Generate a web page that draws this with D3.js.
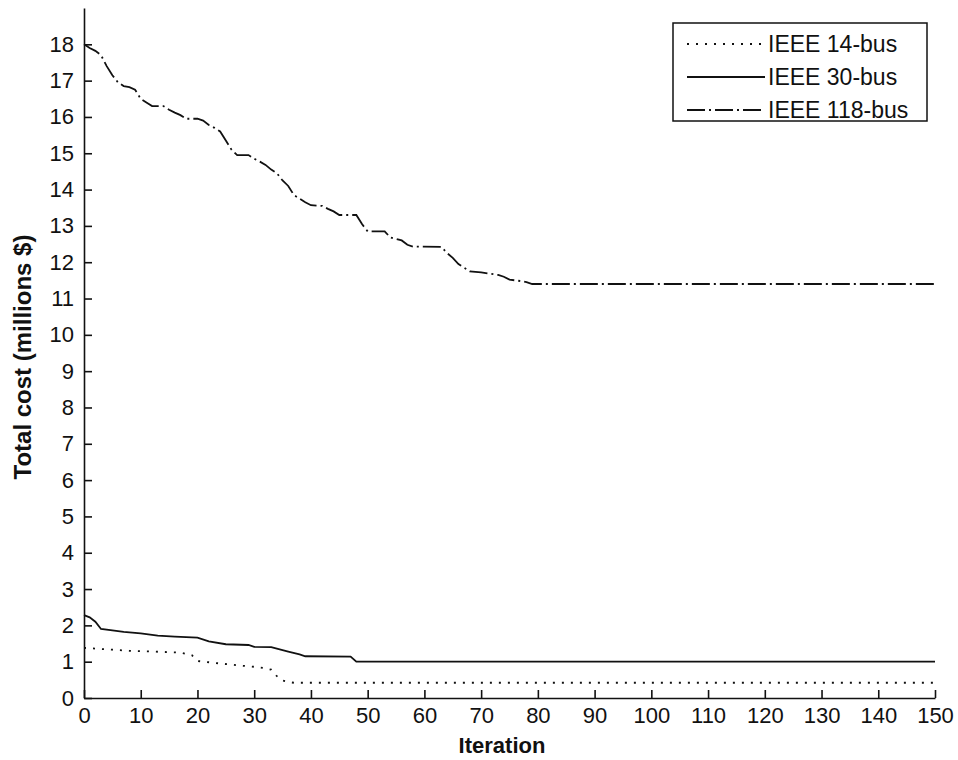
<!DOCTYPE html>
<html>
<head>
<meta charset="utf-8">
<script src="https://cdn.jsdelivr.net/npm/d3@7"></script>
<style>
  body { margin: 0; background: #fff; }
  svg { display: block; }
  .axis text { font-family: "Liberation Sans", Arial, sans-serif; font-size: 22px; fill: #111; }
  .axis path, .axis line { stroke: #111; stroke-width: 1.6px; }
  .title { font-family: "Liberation Sans", Arial, sans-serif; font-weight: bold; fill: #111; }
  .legend text { font-family: "Liberation Sans", Arial, sans-serif; font-size: 23px; fill: #111; }
</style>
</head>
<body>
<div id="chart"></div>
<script>

// iteration / total cost (millions $)
var bus14Iter = [0, 2, 5, 8, 12, 17, 19, 20, 24, 27, 30, 32, 33, 34, 35, 36, 37, 150];
var bus14Cost = [1.38, 1.36, 1.33, 1.3, 1.28, 1.25, 1.18, 1.02, 0.95, 0.9, 0.86, 0.82, 0.78, 0.6, 0.48, 0.44, 0.42, 0.42];

var bus30Iter = [0, 1, 2, 3, 5, 7, 10, 11, 13, 16, 20, 22, 25, 29, 30, 33, 35, 36, 38, 39, 47, 48, 150];
var bus30Cost = [2.28, 2.22, 2.1, 1.9, 1.86, 1.82, 1.78, 1.76, 1.72, 1.69, 1.66, 1.56, 1.48, 1.46, 1.41, 1.4, 1.32, 1.28, 1.2, 1.15, 1.14, 1.0, 1.0];

var bus118Iter = [0, 1, 2, 3, 4, 5, 6, 7, 8, 9, 10, 11, 12, 14, 15, 16, 17, 18, 20, 21, 22, 23, 24, 25, 26, 27, 29,
  30, 31, 32, 33, 34, 35, 36, 37, 38, 39, 40, 42, 43, 44, 45, 48, 49, 50, 53, 54, 56, 57, 58, 63, 64, 65, 66, 67, 68,
  70, 73, 74, 75, 77, 78, 79, 150];
var bus118Cost = [18.0, 17.9, 17.82, 17.7, 17.4, 17.15, 16.95, 16.85, 16.82, 16.75, 16.5, 16.4, 16.3, 16.3, 16.2, 16.12,
  16.05, 15.95, 15.95, 15.9, 15.78, 15.7, 15.6, 15.35, 15.1, 14.95, 14.95, 14.85, 14.77, 14.68, 14.55, 14.45, 14.25,
  14.1, 13.85, 13.75, 13.65, 13.57, 13.55, 13.47, 13.4, 13.3, 13.3, 13.05, 12.85, 12.85, 12.68, 12.6, 12.48, 12.43,
  12.42, 12.25, 12.12, 11.95, 11.85, 11.75, 11.72, 11.65, 11.6, 11.52, 11.48, 11.45, 11.4, 11.4];

var seriesNames = ["IEEE 14-bus", "IEEE 30-bus", "IEEE 118-bus"];
var xTicks = d3.range(0, 151, 10);
var yTicks = d3.range(0, 19, 1);

var W = 958, H = 760;
var margin = {top: 8, right: 23, bottom: 62, left: 84};

var svg = d3.select("#chart")
  .append("svg")
    .attr("width", W)
    .attr("height", H);

var x = d3.scaleLinear().domain([0, 150]).range([margin.left, W - margin.right]);
var y = d3.scaleLinear().domain([0, 19]).range([H - margin.bottom, margin.top]);

// axes, ticks pointing inward like matlab
svg.append("g")
  .attr("class", "axis")
  .attr("transform", "translate(0," + (H - margin.bottom) + ")")
  .call(d3.axisBottom(x).tickValues(xTicks).tickSizeInner(-8).tickSizeOuter(0).tickPadding(9));

svg.append("g")
  .attr("class", "axis")
  .attr("transform", "translate(" + margin.left + ",0)")
  .call(d3.axisLeft(y).tickValues(yTicks).tickSizeInner(-8).tickSizeOuter(0).tickPadding(10));

var line = d3.line()
  .x(function(d) { return x(d[0]); })
  .y(function(d) { return y(d[1]); });

var series = [
  {name: seriesNames[0], data: d3.zip(bus14Iter, bus14Cost), dash: "2,7"},
  {name: seriesNames[1], data: d3.zip(bus30Iter, bus30Cost), dash: null},
  {name: seriesNames[2], data: d3.zip(bus118Iter, bus118Cost), dash: "18,4,2,4"}
];

svg.selectAll(".series")
  .data(series)
  .enter()
  .append("path")
    .attr("class", "series")
    .attr("d", function(d) { return line(d.data); })
    .attr("fill", "none")
    .attr("stroke", "#111")
    .attr("stroke-width", 1.8)
    .attr("stroke-dasharray", function(d) { return d.dash; });

// axis titles
svg.append("text")
  .attr("class", "title")
  .attr("x", 502)
  .attr("y", 753)
  .attr("text-anchor", "middle")
  .style("font-size", "22px")
  .text("Iteration");

svg.append("text")
  .attr("class", "title")
  .attr("transform", "translate(31,357) rotate(-90)")
  .attr("text-anchor", "middle")
  .style("font-size", "24px")
  .text("Total cost (millions $)");

// legend
var legend = svg.append("g").attr("class", "legend");
legend.append("rect")
  .attr("x", 673).attr("y", 23)
  .attr("width", 254).attr("height", 98)
  .attr("fill", "#fff")
  .attr("stroke", "#111")
  .attr("stroke-width", 1.5);

var rows = legend.selectAll(".row")
  .data(series)
  .enter()
  .append("g")
    .attr("class", "row")
    .attr("transform", function(d, i) { return "translate(0," + (44 + i * 33) + ")"; });

rows.append("line")
  .attr("x1", 687).attr("x2", 765)
  .attr("stroke", "#111")
  .attr("stroke-width", 1.8)
  .attr("stroke-dasharray", function(d) { return d.dash; });

rows.append("text")
  .attr("x", 768)
  .attr("dy", "0.36em")
  .text(function(d) { return d.name; });

</script>
</body>
</html>
